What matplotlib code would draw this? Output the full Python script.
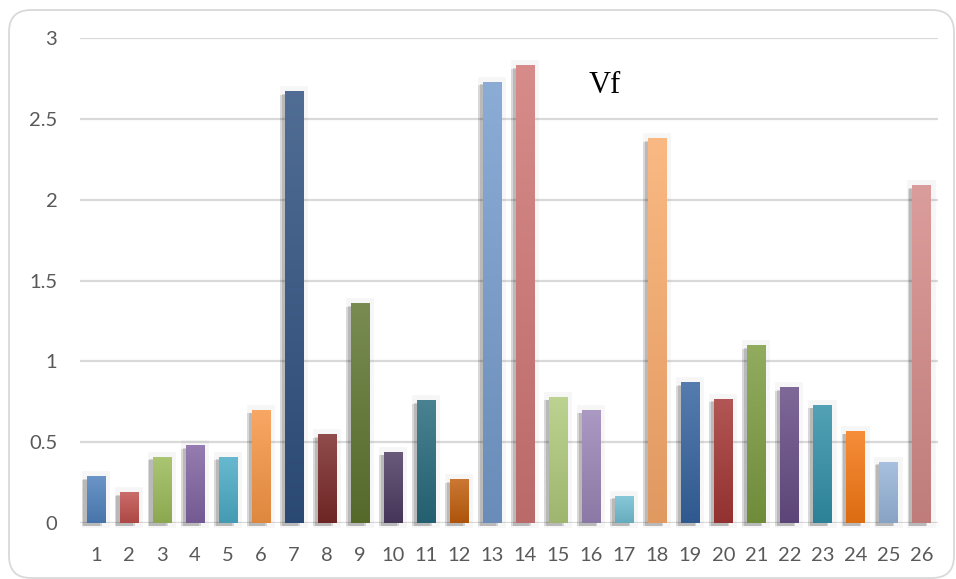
import matplotlib
matplotlib.use("Agg")
import matplotlib.pyplot as plt
import numpy as np
from matplotlib import colors as mcolors
from matplotlib.patches import FancyBboxPatch
from matplotlib.transforms import IdentityTransform
import matplotlib.patheffects as pe

categories = [str(i) for i in range(1, 27)]
values = [0.29, 0.19, 0.41, 0.48, 0.41, 0.70, 2.67, 0.55, 1.36, 0.44,
          0.76, 0.27, 2.73, 2.83, 0.78, 0.70, 0.17, 2.38, 0.87, 0.77,
          1.10, 0.84, 0.73, 0.57, 0.38, 2.09]
bar_colors = ["#4F81BD", "#C0504D", "#9BBB59", "#8064A2", "#4BACC6", "#F79646",
              "#2F5180", "#7A2A28", "#5F7530", "#4D3B62", "#276A7C", "#C15E0C",
              "#759CCD", "#CF7674", "#B0CA7C", "#9B86B7", "#72BFD3", "#F9AB6B",
              "#35639F", "#A33735", "#7C9C40", "#664C85", "#3290A8", "#F57814",
              "#98B5DA", "#D48A88"]
y_ticks = [0, 0.5, 1, 1.5, 2, 2.5, 3]
y_tick_labels = ["0", "0.5", "1", "1.5", "2", "2.5", "3"]
title = "Vf"

W, H = 956, 579
fig = plt.figure(figsize=(W / 100, H / 100), dpi=100)
fig.patch.set_facecolor("white")

# rounded chart-area frame, in pixels
frame = FancyBboxPatch((9, 1), 945, 568,
                       boxstyle="round,pad=0,rounding_size=22",
                       transform=IdentityTransform(), facecolor="none",
                       edgecolor="#D9D9D9", linewidth=1.3)
fig.patches.append(frame)

ax = fig.add_axes([79.5 / W, 56 / H, (938 - 79.5) / W, 485 / H])
ax.set_facecolor("none")
for s in ax.spines.values():
    s.set_visible(False)

x = np.arange(len(categories))
ax.set_xlim(-0.5, len(categories) - 0.5)
ax.set_ylim(0, 3)
ax.set_yticks(y_ticks)
ax.set_yticklabels(y_tick_labels)
ax.set_xticks(x)
ax.set_xticklabels(categories)
ax.tick_params(axis="both", length=0, labelsize=14.5, labelcolor="#595959")
ax.tick_params(axis="x", pad=17)
ax.tick_params(axis="y", pad=16)
for lab in ax.get_xticklabels() + ax.get_yticklabels():
    lab.set_fontfamily("Lato")

for yt in y_ticks:
    ax.axhline(yt, color="#D9D9D9", linewidth=1.6, zorder=0)


def shade(c, f):
    r = np.array(mcolors.to_rgb(c))
    if f >= 0:
        return r + (1 - r) * f
    return r * (1 + f)


shadow_fx = [
    pe.SimplePatchShadow(offset=(-3.5, -2.5), shadow_rgbFace="k", alpha=0.12),
    pe.SimplePatchShadow(offset=(-2.5, -2.0), shadow_rgbFace="k", alpha=0.14),
    pe.Stroke(linewidth=7, foreground=(0, 0, 0, 0.035)),
    pe.Normal(),
]

bars = ax.bar(x, values, width=0.55, color=bar_colors, zorder=2,
              linewidth=0, clip_on=False)
for b, c in zip(bars, bar_colors):
    b.set_path_effects(shadow_fx)
    top = shade(c, 0.16)
    bot = shade(c, -0.10)
    t = np.linspace(0, 1, 64)[:, None]
    grad = (top[None, :] * (1 - t) + bot[None, :] * t)[:, None, :]
    im = ax.imshow(grad, extent=[b.get_x(), b.get_x() + b.get_width(),
                                 0, b.get_height()],
                   aspect="auto", origin="upper", zorder=3,
                   interpolation="bilinear")
    im.set_clip_path(b)

ax.set_aspect("auto")
ax.set_xlim(-0.5, len(categories) - 0.5)
ax.set_ylim(0, 3)

fig.text(605 / W, 1 - 93 / H, title, ha="center", va="baseline",
         fontsize=22, family="Liberation Serif", color="black")

fig.savefig("out.png", dpi=100, facecolor="white")
